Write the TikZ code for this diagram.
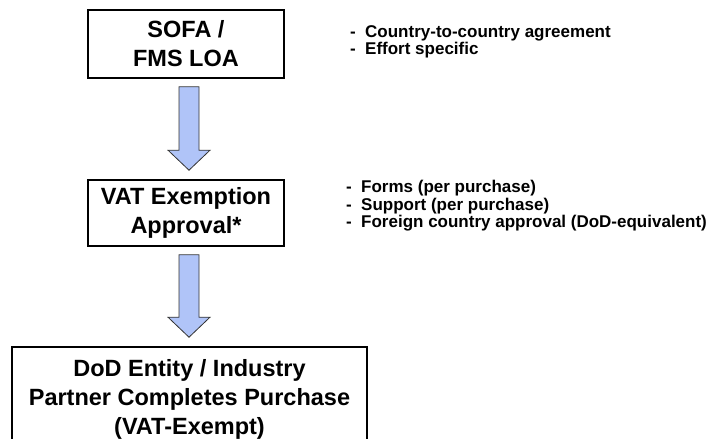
\documentclass[tikz,border=0pt]{standalone}
\usepackage{fontspec}
\setmainfont{Liberation Sans}
\usetikzlibrary{calc}
\definecolor{flecha}{RGB}{176,196,248}
% flecha gruesa de una caja a la siguiente
\newcommand{\bigarrow}[2]{%
  \path (#1.south -| ax) ++(0,8) coordinate (ini) (#2.north -| ax) ++(0,-9) coordinate (fin);
  \draw[blockarrow] ($(ini)+(-10,0)$) -- ($(fin)+(-10,-20)$) -- ($(fin)+(-21,-20)$) -- (fin)
    -- ($(fin)+(21,-20)$) -- ($(fin)+(10,-20)$) -- ($(ini)+(10,0)$) -- cycle;}

\begin{document}
\begin{tikzpicture}[x=1pt, y=-1pt,
  box/.style={draw, line width=1.6pt, align=center, inner sep=0pt,
    font=\bfseries\fontsize{23.5}{29}\selectfont},
  notes/.style={align=left, inner sep=0pt, font=\bfseries\fontsize{17}{17.5}\selectfont},
  blockarrow/.style={draw=black!80, line width=0.8pt, fill=flecha}]
  \useasboundingbox (0,0) rectangle (716,439);
  \clip (0,0) rectangle (716,439);
  \coordinate (ax) at (189,0);
  % cajas
  \node[box, minimum width=196pt, minimum height=68pt] (sofa) at (186,44) {SOFA /\\FMS LOA};
  \node[box, minimum width=196pt, minimum height=66pt] (vat) at (186,213) {VAT Exemption\\Approval*};
  \node[box, minimum width=355pt, minimum height=104pt] (dod) at (189.5,399)
    {DoD Entity / Industry\\Partner Completes Purchase\\(VAT-Exempt)};
  % flechas
  \bigarrow{sofa}{vat}
  \bigarrow{vat}{dod}
  % notas a la derecha
  \node[notes, anchor=west] (n1) at (350,42)
    {\makebox[15pt][l]{-}Country-to-country agreement\\\makebox[15pt][l]{-}Effort specific};
  \node[notes, anchor=west] (n2) at (346,206)
    {\makebox[15pt][l]{-}Forms (per purchase)\\\makebox[15pt][l]{-}Support (per purchase)\\
     \makebox[15pt][l]{-}Foreign country approval (DoD-equivalent)};
\end{tikzpicture}
\end{document}
